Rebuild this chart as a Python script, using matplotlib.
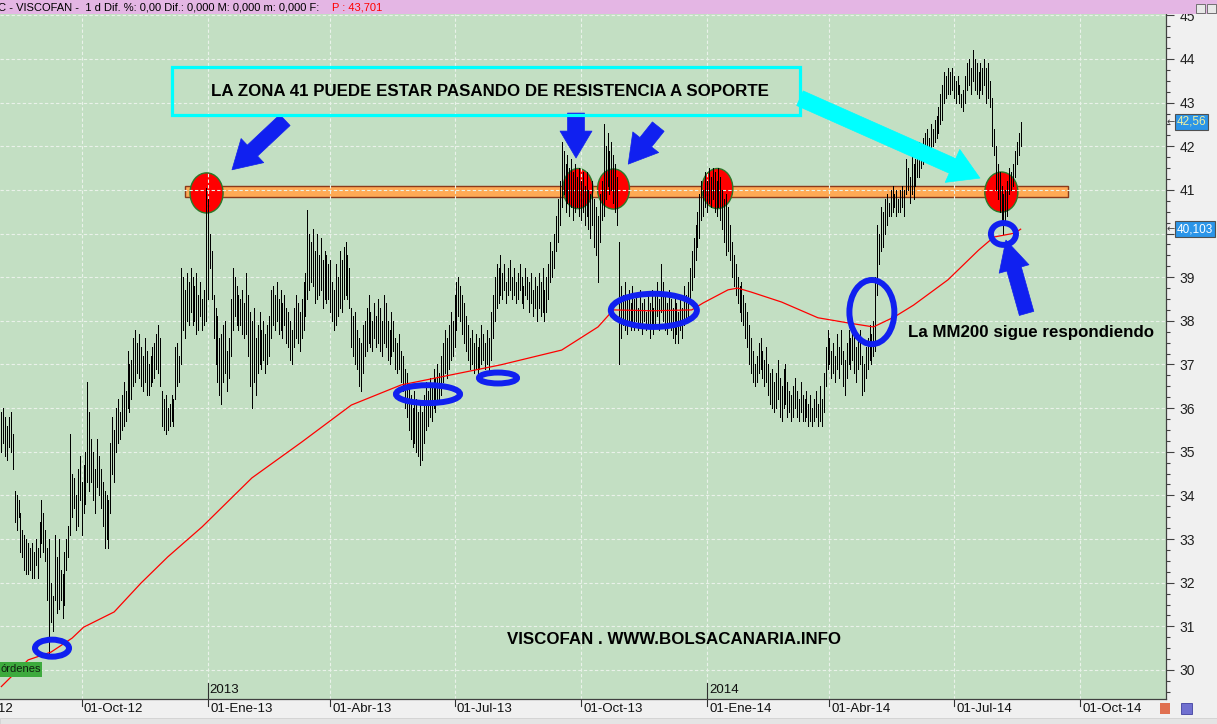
import numpy as np
import matplotlib
matplotlib.use("Agg")
import matplotlib.pyplot as plt
from matplotlib.patches import Ellipse, Rectangle

W, H = 1217, 724

# one bar per business day, starting here
start_day = "2012-08-02"

highs = [
    35.9, 36.0, 35.8, 35.6, 35.8, 35.9, 35.4, 34.1, 34.0, 33.9,
    33.6, 33.2, 33.1, 33.0, 32.9, 32.8, 32.9, 32.7, 33.0, 32.8,
    33.4, 33.9, 33.6, 33.2, 32.8, 33.0, 32.0, 31.7, 33.1, 32.6,
    33.0, 32.3, 32.2, 32.7, 33.0, 33.3, 35.4, 34.5, 34.4, 34.0,
    34.6, 34.9, 34.3, 34.7, 35.0, 36.6, 35.9, 35.3, 35.0, 34.6,
    35.3, 34.9, 34.6, 34.3, 34.1, 34.0, 33.9, 35.2, 35.8, 35.5,
    36.0, 36.2, 35.9, 36.3, 36.6, 36.4, 37.3, 37.0, 37.1, 37.6,
    37.8, 37.5, 37.7, 37.4, 37.2, 37.6, 37.3, 37.0, 37.2, 37.4,
    37.5, 37.7, 37.9, 37.6, 36.4, 36.2, 36.3, 36.0, 36.1, 36.3,
    36.2, 37.4, 37.5, 37.2, 39.2, 39.0, 38.7, 39.1, 38.9, 39.2,
    39.0, 38.8, 39.1, 38.6, 38.9, 38.5, 38.7, 41.05, 40.8, 40.0,
    39.6, 38.6, 38.3, 38.1, 37.6, 37.7, 37.9, 38.0, 37.3, 37.6,
    38.5, 39.2, 39.0, 38.8, 38.6, 38.5, 38.7, 38.4, 39.1, 38.6,
    38.2, 38.0, 38.3, 37.6, 37.9, 38.2, 37.8, 38.0, 37.7, 37.9,
    38.1, 38.7, 38.8, 38.6, 38.9, 38.5, 38.7, 38.4, 38.6, 38.3,
    38.2, 38.0, 37.8, 38.3, 38.6, 38.4, 38.2, 38.5, 38.9, 39.1,
    40.55, 40.0, 39.8, 40.1, 39.6, 40.0, 39.5, 39.9, 39.4, 39.6,
    39.5, 39.3, 39.4, 38.9, 38.7, 39.3, 39.0, 39.6, 39.4, 39.7,
    39.8, 39.5, 39.2, 38.3, 38.1, 38.2, 37.8, 37.6, 37.5, 37.9,
    38.0, 38.3, 38.6, 38.2, 38.0, 38.4, 38.1, 38.5, 38.3, 38.0,
    38.6, 38.4, 38.0, 37.8, 38.2, 38.0, 37.6, 37.5, 37.7, 37.3,
    37.2, 36.9, 36.8, 36.5, 36.3, 36.0, 36.4, 36.2, 35.9, 36.1,
    35.9, 36.3, 36.6, 36.4, 36.7, 36.5, 36.9, 36.7, 37.0, 36.8,
    37.2, 37.5, 37.8, 37.6, 37.9, 38.2, 38.0, 38.6, 38.9, 39.0,
    38.8, 38.6, 38.4, 38.1, 37.9, 37.6, 37.8, 37.5, 37.7, 37.4,
    37.6, 37.9, 37.7, 37.5, 37.8, 37.6, 38.2, 38.6, 39.0, 39.3,
    39.2, 39.5, 39.1, 39.3, 38.9, 39.2, 39.4, 39.0, 39.2, 38.9,
    39.1, 39.3, 39.0, 38.8, 39.2, 39.0, 38.9, 39.1, 38.7, 39.0,
    38.8, 39.1, 38.9, 39.2, 38.7, 39.0, 39.3, 39.8, 39.6, 40.0,
    40.4, 40.8, 41.2, 42.1, 41.9, 41.6, 41.8, 41.5, 41.7, 41.4,
    41.6, 41.3, 41.5, 41.2, 41.4, 41.1, 41.4, 41.0, 40.9, 41.2,
    40.8, 40.6, 40.4, 40.9, 41.2, 42.5, 42.0, 42.3, 41.9, 42.1,
    41.8, 41.6, 41.3, 39.8, 38.8, 38.6, 38.9, 38.5, 38.7, 38.4,
    38.8, 38.5, 38.6, 38.3, 38.7, 38.4, 38.5, 38.2, 38.6, 38.4,
    38.7, 38.3, 38.6, 38.9, 38.5, 39.3, 38.9, 38.6, 38.4, 38.7,
    38.5, 38.3, 38.6, 38.4, 38.2, 38.5, 38.3, 38.8, 38.6, 38.9,
    39.2, 39.6, 39.9, 40.2, 40.5, 40.9, 41.2, 41.0, 41.4, 41.2,
    41.5, 41.3, 41.5, 41.4, 41.2, 41.5, 41.3, 41.0, 40.8, 40.9,
    40.6, 40.2, 39.8, 39.5, 39.3, 39.0, 38.8, 38.9, 38.6, 38.4,
    38.2, 37.9, 37.6, 37.3, 37.0, 37.2, 37.5, 37.6, 37.3, 37.1,
    37.4, 37.0, 36.8, 36.9, 36.6, 36.8, 37.1, 36.7, 36.5, 36.9,
    37.0, 36.6, 36.4, 36.3, 36.5, 36.7, 36.4, 36.2, 36.6, 36.3,
    36.2, 36.4, 36.1, 36.3, 36.0, 36.2, 36.4, 36.1, 36.5, 36.2,
    36.8, 37.4, 37.8, 37.6, 37.3, 37.5, 37.2, 37.7, 37.4, 37.8,
    37.3, 37.1, 37.5, 37.8, 37.6, 37.9, 37.7, 37.4, 37.6, 37.8,
    37.2, 37.0, 37.4, 37.6, 37.9, 37.7, 38.0, 39.0, 40.2, 40.0,
    40.6, 40.5, 40.8, 40.9, 40.7, 41.0, 41.1, 40.9, 41.0, 40.8,
    41.0, 41.1, 41.0, 41.7, 41.5, 41.3, 41.8, 41.6, 41.7, 42.0,
    42.1, 41.9, 42.2, 42.3, 42.4, 42.2, 42.5, 42.4, 42.6, 42.7,
    42.9, 43.2, 43.4, 43.7, 43.6, 43.8, 43.7, 43.8, 43.6, 43.5,
    43.6, 43.4, 43.2, 43.3, 43.6, 43.9, 44.0, 43.8, 44.2, 44.0,
    43.9, 43.7, 43.9, 43.8, 44.0, 43.8, 43.9, 43.5, 43.1, 42.4,
    42.0, 41.6, 41.4, 41.1, 40.9, 41.0, 41.2, 41.5, 41.4, 41.6,
    41.9, 42.1, 42.3, 42.56,
]

lows = [
    35.0, 35.2, 34.9, 34.8, 35.1, 35.0, 34.6, 33.4, 33.2, 33.5,
    32.7, 32.6, 32.3, 32.2, 32.2, 32.3, 32.1, 32.1, 32.4, 32.1,
    32.6, 32.9, 32.7, 32.5, 31.6, 30.4, 31.1, 30.9, 31.6, 31.3,
    31.4, 31.6, 31.2, 31.5, 32.3, 32.6, 33.1, 33.5, 33.7, 33.2,
    33.3, 33.9, 33.1, 33.6, 33.8, 34.3, 34.1, 34.3, 33.9, 33.6,
    34.2, 34.0, 33.7, 33.3, 32.8, 33.0, 32.8, 33.6, 34.5, 34.3,
    35.0, 35.2, 35.3, 35.5, 35.6, 35.7, 36.0, 35.9, 36.2, 36.5,
    36.6, 36.8, 36.7, 36.5, 36.4, 36.6, 36.3, 36.3, 36.5, 36.6,
    36.7, 36.9, 36.8, 36.5, 35.6, 35.5, 35.4, 35.5, 35.6, 35.7,
    35.6, 36.2, 36.5, 36.6, 37.0, 37.8, 37.6, 38.0, 37.9, 38.2,
    37.9, 38.0, 37.7, 37.8, 38.1, 37.8, 37.9, 38.0, 38.5, 39.2,
    38.5, 37.6, 37.0, 36.6, 36.3, 36.1, 36.6, 36.8, 36.4, 36.7,
    37.2, 37.8, 38.1, 37.9, 37.8, 37.9, 37.7, 37.6, 37.7, 37.2,
    36.5, 36.0, 36.6, 36.3, 36.8, 37.0, 36.9, 37.1, 36.8, 37.0,
    37.2, 37.6, 37.9, 37.8, 38.0, 37.7, 37.8, 37.6, 37.9, 37.5,
    37.4, 37.1, 37.0, 37.4, 37.6, 37.5, 37.3, 37.6, 37.8, 38.1,
    38.5, 38.7, 38.9, 38.8, 38.4, 38.5, 38.6, 38.7, 38.3, 38.5,
    38.4, 38.5, 38.2, 38.0, 37.8, 37.9, 38.1, 38.3, 38.2, 38.5,
    38.6, 38.5, 38.3, 37.4, 37.2, 37.0, 36.9, 36.5, 36.4, 36.8,
    37.2, 37.3, 37.5, 37.4, 37.3, 37.6, 37.4, 37.5, 37.3, 37.2,
    37.5, 37.4, 37.1, 37.0, 37.2, 37.3, 36.9, 36.8, 36.9, 36.6,
    36.4, 36.0, 35.8, 35.5, 35.3, 35.1, 35.2, 35.0, 34.9, 34.7,
    34.8, 35.2, 35.5, 35.6, 35.8, 35.7, 36.0, 35.9, 36.1, 36.2,
    36.3, 36.6, 36.8, 36.7, 36.9, 37.1, 37.2, 37.4, 37.8, 38.1,
    38.0, 37.7, 37.5, 37.3, 37.1, 36.9, 37.0, 36.8, 36.9, 36.8,
    36.9, 37.0, 37.1, 36.9, 37.0, 36.8, 37.1, 37.6, 38.0, 38.3,
    38.4, 38.6, 38.5, 38.7, 38.4, 38.6, 38.7, 38.5, 38.6, 38.4,
    38.5, 38.7, 38.4, 38.3, 38.6, 38.5, 38.2, 38.4, 38.1, 38.3,
    38.0, 38.3, 38.1, 38.2, 38.0, 38.2, 38.5, 38.9, 39.0, 39.2,
    39.6, 39.8, 40.2, 40.6, 40.9, 40.5, 40.7, 40.4, 40.6, 40.3,
    40.5, 40.6, 40.4, 40.3, 40.5, 40.2, 40.4, 40.1, 39.9, 40.2,
    39.7, 39.5, 38.9, 39.8, 40.3, 40.4, 40.8, 41.1, 40.9, 41.0,
    40.7, 40.5, 40.2, 37.0, 37.6, 37.9, 37.8, 37.7, 38.0, 37.8,
    37.9, 37.8, 38.0, 37.8, 37.9, 37.7, 38.0, 37.8, 37.9, 37.6,
    37.9, 37.7, 37.9, 38.1, 37.8, 38.2, 38.0, 37.8, 37.7, 37.9,
    37.8, 37.6, 37.5, 37.7, 37.5, 37.8, 37.6, 37.9, 38.0, 38.1,
    38.5, 38.7, 39.0, 39.4, 39.7, 39.9, 40.3, 40.4, 40.6, 40.5,
    40.7, 40.6, 40.8, 40.5, 40.4, 40.6, 40.3, 40.1, 39.8, 39.5,
    39.6, 39.4, 39.0, 38.8, 38.6, 38.4, 38.2, 38.0, 37.9, 37.6,
    37.4, 37.0, 36.8, 36.6, 36.5, 36.6, 36.8, 36.9, 36.7, 36.5,
    36.6, 36.3, 36.1, 36.0, 35.9, 36.0, 36.2, 35.8, 35.7, 36.0,
    36.1, 35.8, 35.9, 35.7, 35.8, 36.0, 35.8, 35.7, 35.9, 35.7,
    35.7, 35.8, 35.6, 35.7, 35.6, 35.7, 35.8, 35.6, 35.7, 35.6,
    35.9, 36.5, 36.9, 37.0, 36.7, 36.8, 36.6, 36.9, 36.7, 37.0,
    36.5, 36.3, 36.7, 37.0, 36.9, 37.1, 36.8, 36.6, 36.9, 37.0,
    36.3, 36.4, 36.7, 36.9, 37.1, 37.0, 37.2, 37.3, 38.6, 39.3,
    39.6, 39.7, 40.0, 40.2, 40.4, 40.4, 40.5, 40.6, 40.4, 40.5,
    40.5, 40.6, 40.4, 40.9, 41.0, 40.7, 40.9, 40.8, 41.1, 41.3,
    41.3, 41.5, 41.6, 41.8, 41.9, 41.8, 41.9, 42.0, 42.1, 42.2,
    42.3, 42.5, 42.6, 43.0, 43.1, 43.2, 43.2, 43.3, 43.1, 43.0,
    43.2, 43.0, 42.9, 42.8, 43.0, 43.3, 43.4, 43.2, 43.5, 43.3,
    43.2, 43.1, 43.3, 43.2, 43.4, 43.0, 43.1, 42.9, 42.0, 41.8,
    41.0, 40.8, 40.5, 40.3, 40.0, 40.2, 40.4, 40.9, 41.0, 41.1,
    41.3, 41.6, 41.8, 42.0,
]
last_price = 42.56
title_price = 43.701

# 200 session moving average, read at these bars
mm200_bar = [0, 14, 26, 37, 43, 59, 73, 87, 105, 131, 157, 183, 209, 235, 261,
             293, 312, 320, 340, 361, 367, 380, 385, 392, 408, 427, 443, 456,
             467, 477, 495, 511, 519, 530, 533]
mm200_val = [29.62, 30.23, 30.41, 30.73, 30.98, 31.33, 31.99, 32.59, 33.28, 34.4,
             35.22, 36.07, 36.53, 36.76, 36.99, 37.33, 37.86, 38.25, 38.23, 38.25,
             38.41, 38.71, 38.75, 38.66, 38.43, 38.07, 37.95, 37.86, 38.09, 38.36,
             38.94, 39.62, 39.92, 40.01, 40.10]
last_mm200 = 40.103

quarter_days = ["2012-07-01", "2012-10-01", "2013-01-01", "2013-04-01", "2013-07-01",
                "2013-10-01", "2014-01-01", "2014-04-01", "2014-07-01", "2014-10-01"]
quarter_labels = ["01-Jul-12", "01-Oct-12", "01-Ene-13", "01-Abr-13", "01-Jul-13",
                  "01-Oct-13", "01-Ene-14", "01-Abr-14", "01-Jul-14", "01-Oct-14"]
year_days = ["2013-01-01", "2014-01-01"]
year_labels = ["2013", "2014"]

font = "Liberation Sans"
blue = "#1020F0"


def yfrac(py):
    # pixel row -> axes fraction (axes spans rows 14..699)
    return (699 - py) / 685


def comma(v):
    return f"{v:g}".replace(".", ",")


fig = plt.figure(figsize=(W / 100, H / 100), dpi=100)
fig.patch.set_facecolor("#F0F0F0")
ax = fig.add_axes([0, 1 - 699 / H, 1166 / W, 685 / H])
ax.set_facecolor("#C3DFC3")
ax.set_xlim(-0.7, 609)
ax.set_ylim(29.335, 45.03)

bars = np.arange(len(highs))
qx = [int(np.busday_count(start_day, d)) for d in quarter_days]
yx = [int(np.busday_count(start_day, d)) for d in year_days]

# grid
grid_c = "#EAF2EA"
for v in range(30, 46):
    ax.axhline(v, color=grid_c, lw=0.8, ls=(0, (3, 2)), zorder=2)
for x in qx:
    ax.axvline(x, color=grid_c, lw=0.8, ls=(0, (3, 2)), zorder=2)

# resistance band and touches
ax.add_patch(Rectangle((96, 40.84), 461.7, 0.25, fc="#FFAA55", ec="#8B3A1A", lw=1, zorder=1.2))
for cx, cy, w in [(107.3, 40.93, 17.3), (301.5, 41.03, 15.7), (320.1, 41.02, 16.7),
                  (374.4, 41.03, 16.2), (522.9, 40.95, 17.3)]:
    ax.add_patch(Ellipse((cx, cy), w, 0.92, fc="#FF0000", ec="#2A7A2A", lw=1, zorder=1.5))

# price bars and MM200
ax.vlines(bars, lows, highs, colors="black", lw=0.72, antialiased=False, zorder=3)
ax.plot(mm200_bar, mm200_val, color="red", lw=0.9, zorder=3.5)

# blue rings on the MM200 touches
for cx, cy, w, h in [(26.5, 30.50, 17.8, 0.39), (223.1, 36.32, 33.5, 0.41),
                     (259.7, 36.69, 19.9, 0.25), (341.2, 38.24, 45.0, 0.76),
                     (455.2, 38.20, 23.5, 1.47), (524.0, 39.99, 13.1, 0.50)]:
    ax.add_patch(Ellipse((cx, cy), w, h, fill=False, ec=blue, lw=4.3, zorder=4))


def block_arrow(tail, tip, color, shaft, head_w, head_l):
    # sizes in pixels, mutation scale of 10 pt
    u = 10 / 0.72
    style = f"simple,head_length={head_l / u:.2f},head_width={head_w / u:.2f},tail_width={shaft / u:.2f}"
    ax.annotate("", xy=tip, xytext=tail, zorder=5,
                arrowprops=dict(arrowstyle=style, mutation_scale=10, fc=color, ec=color,
                                lw=0.5, shrinkA=0, shrinkB=0))


block_arrow((148.3, 42.60), (120.6, 41.46), blue, 15, 33, 28)
block_arrow((300.5, 42.76), (300.5, 41.73), blue, 17, 32, 27)
block_arrow((343.5, 42.45), (327.8, 41.59), blue, 15, 33, 28)
block_arrow((536.1, 38.17), (525.3, 39.85), blue, 15, 31, 30)
block_arrow((417.6, 43.10), (511.7, 41.27), "#00FFFF", 16, 36, 30)

ax.add_patch(Rectangle((89.2, 42.72), 328.4, 1.10, fill=False, ec="#00FFFF", lw=2.3, zorder=5))
ax.text(255.5, 43.25, "LA ZONA 41 PUEDE ESTAR PASANDO DE RESISTENCIA A SOPORTE",
        ha="center", va="center", fontsize=12.2, fontweight="bold", family=font, zorder=6)
ax.text(474.0, 37.74, "La MM200 sigue respondiendo", ha="left", va="center",
        fontsize=12.2, fontweight="bold", family=font, zorder=6)
ax.text(264.4, 30.69, "VISCOFAN . WWW.BOLSACANARIA.INFO", ha="left", va="center",
        fontsize=12.2, fontweight="bold", family=font, zorder=6)

# right price axis; the 40 label sits under the MM200 tag
ax.yaxis.tick_right()
ax.set_yticks(range(30, 46))
ax.set_yticklabels(["" if v == 40 else str(v) for v in range(30, 46)])
ax.set_yticks(np.arange(29.5, 45.1, 0.25), minor=True)
ax.tick_params(axis="y", which="major", length=6, width=0.8, color="#404040",
               labelsize=10, pad=4, labelcolor="#202020")
ax.tick_params(axis="y", which="minor", length=3, width=0.8, color="#404040")
for lbl in ax.get_yticklabels():
    lbl.set_family(font)
ax.set_xticks([])
for sp in ["left", "top"]:
    ax.spines[sp].set_visible(False)
for sp in ["right", "bottom"]:
    ax.spines[sp].set_color("#404040")
    ax.spines[sp].set_linewidth(0.9)

ytr = ax.get_yaxis_transform()
for val, txt_c in [(last_price, "#F0F0A0"), (last_mm200, "white")]:
    ax.text(1.0094, val, comma(val), transform=ytr, ha="left", va="center", fontsize=8.5,
            family=font, color=txt_c, clip_on=False, zorder=7,
            bbox=dict(boxstyle="square,pad=0.15", fc="#2B95E8", ec="#505050", lw=0.8))
    ax.text(1.0004, val, "←", transform=ytr, ha="left", va="center", fontsize=7,
            color="#404040", clip_on=False)

# date axis
xtr = ax.get_xaxis_transform()
for x, lab in zip(qx, quarter_labels):
    ax.plot([x, x], [yfrac(699), yfrac(706)], transform=xtr, color="#303030", lw=0.8, clip_on=False)
    ax.text(x + 1.2, yfrac(709), lab, transform=xtr, ha="left", va="center", fontsize=9.5,
            family=font, color="#101010", clip_on=False)
for x, lab in zip(yx, year_labels):
    ax.plot([x, x], [yfrac(683), yfrac(699)], transform=xtr, color="#303030", lw=0.8)
    ax.text(x + 1.0, yfrac(690), lab, transform=xtr, ha="left", va="center", fontsize=9.5,
            family=font, color="#101010")

# window title bar
fig.add_artist(Rectangle((0, 1 - 14 / H), 1, 14 / H, transform=fig.transFigure,
                         fc="#E4B6E4", ec="none", zorder=1))
fig.text(-2 / W, 1 - 7 / H, "C - VISCOFAN -  1 d Dif. %: 0,00 Dif.: 0,000 M: 0,000 m: 0,000 F:",
         fontsize=8, va="center", family=font, zorder=3)
fig.text(332 / W, 1 - 7 / H, "P : " + comma(title_price), fontsize=8, va="center",
         family=font, color="red", zorder=3)
for bx in [1196, 1207]:
    fig.add_artist(Rectangle((bx / W, 1 - 13 / H), 9 / W, 9 / H, transform=fig.transFigure,
                             fc="#E8E8E8", ec="#606060", lw=0.6, zorder=3))

# order box and bottom icons
fig.add_artist(Rectangle((0, 1 - 677 / H), 42 / W, 15 / H, transform=fig.transFigure,
                         fc="#3DAA3D", ec="none", zorder=3))
fig.text(41 / W, 1 - 669.5 / H, "órdenes", ha="right", va="center", fontsize=8,
         family=font, color="#102010", zorder=4)
fig.add_artist(Rectangle((1181 / W, 1 - 714 / H), 11 / W, 11 / H, transform=fig.transFigure,
                         fc="#7070D0", ec="#4040A0", lw=0.6, zorder=3))
fig.add_artist(Rectangle((1160 / W, 1 - 714 / H), 10 / W, 11 / H, transform=fig.transFigure,
                         fc="#E07050", ec="none", zorder=3))
fig.add_artist(Rectangle((0, 1 - 724 / H), 1, 6 / H, transform=fig.transFigure,
                         fc="#E4E4E4", ec="#D0D0D0", lw=0.6, zorder=1))

fig.savefig("out.png", dpi=100, facecolor=fig.get_facecolor())
